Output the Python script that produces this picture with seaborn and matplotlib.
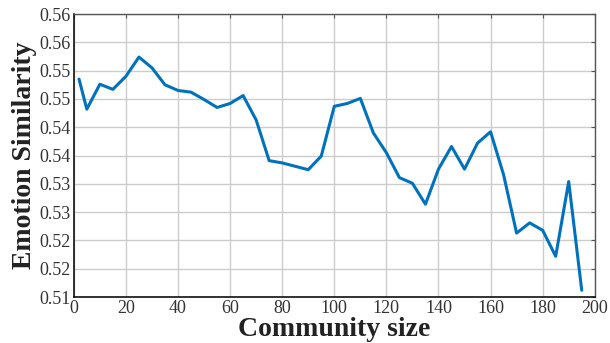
import matplotlib
matplotlib.use("Agg")
import matplotlib.pyplot as plt
import seaborn as sns
import pandas as pd

# Community size (x) and mean emotion similarity (y)
community_size = [2] + list(range(5, 200, 5))
emotion_similarity = [
    0.5485, 0.5432, 0.5476, 0.5467, 0.5490, 0.5524, 0.5505, 0.5475, 0.5465, 0.5462,
    0.5449, 0.5435, 0.5442, 0.5456, 0.5413, 0.5341, 0.5337, 0.5331, 0.5325, 0.5349,
    0.5437, 0.5442, 0.5451, 0.5390, 0.5355, 0.5311, 0.5301, 0.5264, 0.5326, 0.5366,
    0.5326, 0.5372, 0.5392, 0.5316, 0.5213, 0.5231, 0.5218, 0.5172, 0.5304, 0.5112,
]
x_ticks = [0, 20, 40, 60, 80, 100, 120, 140, 160, 180, 200]
y_ticks = [0.510, 0.515, 0.520, 0.525, 0.530, 0.535, 0.540, 0.545, 0.550, 0.555, 0.560]
y_tick_labels = ["0.51", "0.52", "0.52", "0.53", "0.53", "0.54", "0.54", "0.55", "0.55", "0.56", "0.56"]

df = pd.DataFrame({"size": community_size, "sim": emotion_similarity})

sns.set_style("whitegrid")
plt.rcParams["font.family"] = ["Liberation Serif", "DejaVu Serif"]

fig, ax = plt.subplots(figsize=(6.1, 3.43), dpi=100)
fig.subplots_adjust(left=0.121, right=0.975, top=0.959, bottom=0.134)

sns.lineplot(data=df, x="size", y="sim", ax=ax, color="#0072BD", linewidth=2.2)

ax.set_xlim(0, 200)
ax.set_ylim(0.51, 0.56)
ax.set_xticks(x_ticks)
ax.set_yticks(y_ticks)
ax.set_yticklabels(y_tick_labels)
ax.tick_params(axis="both", labelsize=13, colors="#333333", direction="in",
               length=3, top=True, right=True, pad=2)
ax.tick_params(axis="both", color="#555555")

ax.grid(True, color="#cccccc", linewidth=1.0)
for side in ["left", "bottom"]:
    ax.spines[side].set_color("#111111")
    ax.spines[side].set_linewidth(1.2)
for side in ["top", "right"]:
    ax.spines[side].set_color("#555555")
    ax.spines[side].set_linewidth(1.0)

ax.set_xlabel("Community size", fontsize=20, fontweight="bold", color="#222222", labelpad=0)
ax.set_ylabel("Emotion Similarity", fontsize=20, fontweight="bold", color="#222222", labelpad=2)

fig.savefig("out.png", dpi=100)
